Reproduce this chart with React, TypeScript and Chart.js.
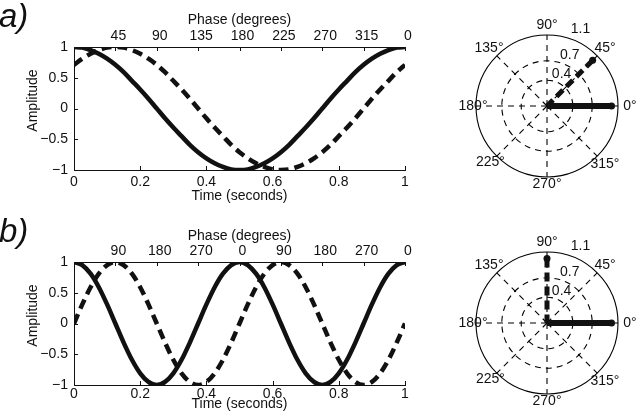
import React, { useEffect, useRef } from 'react';
import Chart from 'chart.js/auto';

// ---------- data ----------
const timeValues = [0, 0.025, 0.05, 0.075, 0.1, 0.125, 0.15, 0.175, 0.2, 0.225, 0.25, 0.275, 0.3, 0.325, 0.35, 0.375, 0.4, 0.425, 0.45, 0.475, 0.5, 0.525, 0.55, 0.575, 0.6, 0.625, 0.65, 0.675, 0.7, 0.725, 0.75, 0.775, 0.8, 0.825, 0.85, 0.875, 0.9, 0.925, 0.95, 0.975, 1];

const solidA = [1, 0.99, 0.95, 0.89, 0.81, 0.71, 0.59, 0.45, 0.31, 0.16, 0, -0.16, -0.31, -0.45, -0.59, -0.71, -0.81, -0.89, -0.95, -0.99, -1, -0.99, -0.95, -0.89, -0.81, -0.71, -0.59, -0.45, -0.31, -0.16, 0, 0.16, 0.31, 0.45, 0.59, 0.71, 0.81, 0.89, 0.95, 0.99, 1];
const dashedA = [0.71, 0.81, 0.89, 0.95, 0.99, 1, 0.99, 0.95, 0.89, 0.81, 0.71, 0.59, 0.45, 0.31, 0.16, 0, -0.16, -0.31, -0.45, -0.59, -0.71, -0.81, -0.89, -0.95, -0.99, -1, -0.99, -0.95, -0.89, -0.81, -0.71, -0.59, -0.45, -0.31, -0.16, 0, 0.16, 0.31, 0.45, 0.59, 0.71];

const solidB = [1, 0.95, 0.81, 0.59, 0.31, 0, -0.31, -0.59, -0.81, -0.95, -1, -0.95, -0.81, -0.59, -0.31, 0, 0.31, 0.59, 0.81, 0.95, 1, 0.95, 0.81, 0.59, 0.31, 0, -0.31, -0.59, -0.81, -0.95, -1, -0.95, -0.81, -0.59, -0.31, 0, 0.31, 0.59, 0.81, 0.95, 1];
const dashedB = [0, 0.31, 0.59, 0.81, 0.95, 1, 0.95, 0.81, 0.59, 0.31, 0, -0.31, -0.59, -0.81, -0.95, -1, -0.95, -0.81, -0.59, -0.31, 0, 0.31, 0.59, 0.81, 0.95, 1, 0.95, 0.81, 0.59, 0.31, 0, -0.31, -0.59, -0.81, -0.95, -1, -0.95, -0.81, -0.59, -0.31, 0];

const timeTicks = [0, 0.2, 0.4, 0.6, 0.8, 1];
const ampTicks = [-1, -0.5, 0, 0.5, 1];
const phaseTickPos = [0, 0.125, 0.25, 0.375, 0.5, 0.625, 0.75, 0.875, 1];
const phaseLabelsA = ['', '45', '90', '135', '180', '225', '270', '315', '0'];
const phaseLabelsB = ['', '90', '180', '270', '0', '90', '180', '270', '0'];

const polarAngles = [90, 45, 0, 315, 270, 225, 180, 135];
const radialTicks = [0, 0.4, 0.7, 1.1];
const radialLabels = ['', '0.4', '0.7', '1.1'];
const vectorAnglesA = [0, 45];
const vectorMagsA = [1, 1];
const vectorAnglesB = [0, 90];
const vectorMagsB = [1, 1];

// ---------- style ----------
const FONT = '"Liberation Sans", Arial, Helvetica, sans-serif';
const INK = '#111';
const polarLabelDist: Record<number, number> = { 90: 81, 45: 82, 0: 83, 315: 82, 270: 78, 225: 80, 180: 74, 135: 82 };

const fmtAmp = (v: number) => (v < 0 ? '\u2212' + String(-v) : String(v));

const inwardTicks = {
  id: 'inwardTicks',
  afterDraw(chart: any) {
    const { ctx, chartArea } = chart;
    const { left, top, bottom } = chartArea;
    const L = 4;
    const sx = chart.scales.x, sx2 = chart.scales.x2, sy = chart.scales.y;
    ctx.save();
    ctx.strokeStyle = INK;
    ctx.lineWidth = 1;
    ctx.beginPath();
    sx.ticks.forEach((t: any) => {
      const px = Math.round(sx.getPixelForValue(t.value)) + 0.5;
      ctx.moveTo(px, bottom);
      ctx.lineTo(px, bottom - L);
    });
    sx2.ticks.forEach((t: any) => {
      const px = Math.round(sx2.getPixelForValue(t.value)) + 0.5;
      ctx.moveTo(px, top);
      ctx.lineTo(px, top + L);
    });
    sy.ticks.forEach((t: any) => {
      const py = Math.round(sy.getPixelForValue(t.value)) + 0.5;
      ctx.moveTo(left, py);
      ctx.lineTo(left + L, py);
    });
    ctx.stroke();
    // y-axis title
    ctx.fillStyle = INK;
    ctx.font = '14px ' + FONT;
    ctx.textAlign = 'center';
    ctx.textBaseline = 'middle';
    ctx.translate(33, (top + bottom) / 2 - 8);
    ctx.rotate(-Math.PI / 2);
    ctx.fillText('Amplitude', 0, 0);
    ctx.restore();
  },
};

type Geo = { topH: number; bottomH: number; topTitlePad: number; bottomTickPad: number; bottomTitlePad: number };

function makeLineConfig(solid: number[], dashed: number[], phaseLabels: string[], geo: Geo): any {
  const font = { family: FONT, size: 14 };
  const mk = (vals: number[], dash: number[]) => ({
    data: timeValues.map((t, i) => ({ x: t, y: vals[i] })),
    borderColor: INK,
    borderWidth: 4.5,
    borderDash: dash,
    borderCapStyle: 'butt',
    pointRadius: 0,
    cubicInterpolationMode: 'monotone',
    fill: false,
    clip: 0,
  });
  return {
    type: 'line',
    data: { datasets: [mk(solid, []), mk(dashed, [10, 6])] },
    options: {
      responsive: false,
      animation: false,
      devicePixelRatio: 1,
      layout: { padding: { left: 0, right: 35, top: 0, bottom: 0 } },
      plugins: { legend: { display: false }, tooltip: { enabled: false } },
      scales: {
        x: {
          type: 'linear', position: 'bottom', min: 0, max: 1,
          afterBuildTicks: (s: any) => { s.ticks = timeTicks.map((v) => ({ value: v })); },
          afterFit: (s: any) => { s.height = geo.bottomH; },
          grid: { display: false, drawTicks: false },
          border: { display: true, color: INK, width: 1 },
          ticks: { padding: geo.bottomTickPad, color: INK, font, maxRotation: 0, autoSkip: false, callback: (v: number) => String(v) },
          title: { display: true, text: 'Time (seconds)', color: INK, font, padding: { top: 0, bottom: geo.bottomTitlePad } },
        },
        x2: {
          type: 'linear', position: 'top', min: 0, max: 1,
          afterBuildTicks: (s: any) => { s.ticks = phaseTickPos.map((v) => ({ value: v })); },
          afterFit: (s: any) => { s.height = geo.topH; },
          grid: { display: false, drawTicks: false },
          border: { display: true, color: INK, width: 1 },
          ticks: { padding: 2, labelOffset: 3, color: INK, font, maxRotation: 0, autoSkip: false, callback: (_v: number, i: number) => phaseLabels[i] },
          title: { display: true, text: 'Phase (degrees)', color: INK, font, padding: { top: geo.topTitlePad, bottom: 0 } },
        },
        y: {
          type: 'linear', position: 'left', min: -1, max: 1,
          afterBuildTicks: (s: any) => { s.ticks = ampTicks.map((v) => ({ value: v })); },
          afterFit: (s: any) => { s.width = 74; },
          grid: { display: false, drawTicks: false },
          border: { display: true, color: INK, width: 1 },
          ticks: { padding: 6, color: INK, font, autoSkip: false, callback: (v: number) => fmtAmp(v) },
        },
      },
    },
    plugins: [inwardTicks],
  };
}

const polarText = {
  id: 'polarText',
  afterDraw(chart: any) {
    const s = chart.scales.r;
    const ctx = chart.ctx;
    ctx.save();
    ctx.fillStyle = INK;
    ctx.font = '14px ' + FONT;
    ctx.textAlign = 'center';
    ctx.textBaseline = 'middle';
    polarAngles.forEach((a, i) => {
      const p = s.getPointPosition(i, polarLabelDist[a]);
      ctx.fillText(a + '\u00B0', p.x, p.y);
    });
    ctx.textAlign = 'left';
    radialTicks.forEach((v, i) => {
      if (!radialLabels[i]) return;
      const d = s.getDistanceFromCenterForValue(v);
      ctx.fillText(radialLabels[i], s.xCenter + 0.42 * d - 6, s.yCenter - d - 6);
    });
    ctx.restore();
  },
};

function makePolarConfig(angles: number[], mags: number[], padBottom: number): any {
  const datasets = angles.map((a, k) => {
    const data: (number | null)[] = polarAngles.map(() => null);
    const i = polarAngles.indexOf(a);
    data[i] = mags[k];
    data[(i + 1) % polarAngles.length] = 0;
    return {
      data,
      borderColor: INK,
      backgroundColor: INK,
      borderWidth: k === 0 ? 6 : 5,
      borderDash: k === 0 ? [] : [9, 5],
      borderCapStyle: 'butt',
      pointRadius: (c: any) => (c.raw ? 3.5 : 0),
      pointBackgroundColor: INK,
      pointBorderWidth: 0,
      fill: false,
      spanGaps: false,
    };
  });
  return {
    type: 'radar',
    data: { labels: polarAngles.map((a) => a + '\u00B0'), datasets },
    options: {
      responsive: false,
      animation: false,
      devicePixelRatio: 1,
      layout: { padding: { left: 19, right: 19, top: 35, bottom: padBottom } },
      plugins: { legend: { display: false }, tooltip: { enabled: false } },
      scales: {
        r: {
          min: 0, max: 1.1,
          afterBuildTicks: (s: any) => { s.ticks = radialTicks.map((v) => ({ value: v })); },
          ticks: { display: false },
          pointLabels: { display: false },
          grid: { circular: true, color: '#000', lineWidth: 1.1 },
          border: { dash: (c: any) => (c.tick && c.tick.value >= 1.09 ? [] : [6, 5]) },
          angleLines: { display: true, color: '#000', lineWidth: 1.1, borderDash: [6, 5] },
        },
      },
    },
    plugins: [polarText],
  };
}

export default function App() {
  const lineA = useRef<HTMLCanvasElement>(null);
  const lineB = useRef<HTMLCanvasElement>(null);
  const polA = useRef<HTMLCanvasElement>(null);
  const polB = useRef<HTMLCanvasElement>(null);

  useEffect(() => {
    Chart.defaults.font.family = FONT;
    Chart.defaults.color = INK;
    const charts = [
      new Chart(lineA.current as HTMLCanvasElement, makeLineConfig(solidA, dashedA, phaseLabelsA, { topH: 47, bottomH: 35, topTitlePad: 12, bottomTickPad: 3.5, bottomTitlePad: 0 })),
      new Chart(lineB.current as HTMLCanvasElement, makeLineConfig(solidB, dashedB, phaseLabelsB, { topH: 52, bottomH: 35, topTitlePad: 18, bottomTickPad: 0.5, bottomTitlePad: 7.5 })),
      new Chart(polA.current as HTMLCanvasElement, makePolarConfig(vectorAnglesA, vectorMagsA, 35)),
      new Chart(polB.current as HTMLCanvasElement, makePolarConfig(vectorAnglesB, vectorMagsB, 26)),
    ];
    return () => charts.forEach((c) => c.destroy());
  }, []);

  const abs = (l: number, t: number): React.CSSProperties => ({ position: 'absolute', left: l, top: t, display: 'block' });
  const panelLabel: React.CSSProperties = { position: 'absolute', fontFamily: FONT, fontStyle: 'italic', fontSize: 33, lineHeight: '33px', color: INK, whiteSpace: 'nowrap' };

  return (
    <div style={{ position: 'absolute', left: 0, top: 0, width: 637, height: 420, background: '#fff', overflow: 'hidden' }}>
      <canvas ref={lineA} width={440} height={205} style={abs(0, 0)} />
      <canvas ref={lineB} width={440} height={210} style={abs(0, 210)} />
      <canvas ref={polA} width={180} height={212} style={abs(457, 0)} />
      <canvas ref={polB} width={180} height={203} style={abs(457, 217)} />
      <span style={{ ...panelLabel, left: -1, top: -1 }}>a)</span>
      <span style={{ ...panelLabel, left: -1, top: 214 }}>b)</span>
    </div>
  );
}
